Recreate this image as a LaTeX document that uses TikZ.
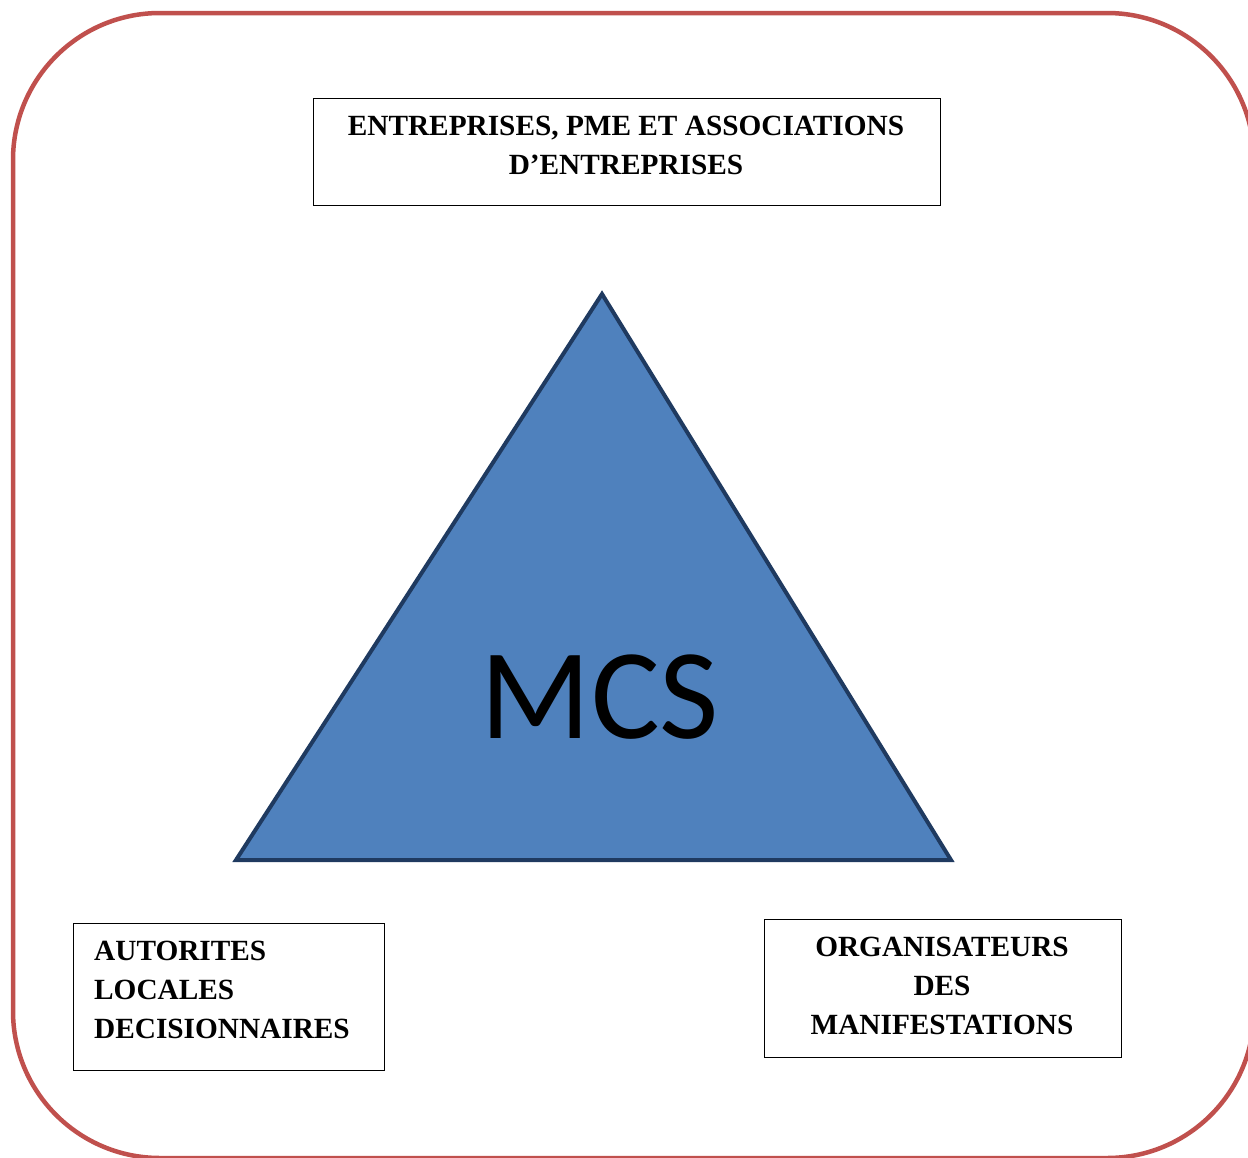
\documentclass[tikz,border=0pt]{standalone}
\usepackage{fontspec}
\setmainfont{Liberation Serif}
\newfontfamily\mcsfont{Carlito}
\definecolor{outerred}{HTML}{C0504D}
\definecolor{trifill}{HTML}{4F81BD}
\definecolor{tridraw}{HTML}{1F3A60}
\tikzset{
  labelbox/.style={draw=black, line width=1pt, inner sep=0pt},
  labeltext/.style={inner sep=0pt, font=\bfseries\fontsize{29.3}{38.8}\selectfont},
}
\begin{document}
\begin{tikzpicture}[x=1pt,y=-1pt]
\useasboundingbox (0,0) rectangle (1248,1157);
% outer frame
\draw[outerred, line width=4.5pt, rounded corners=147pt] (13,13) rectangle (1254,1158);
% triangle
\draw[tridraw, fill=trifill, line width=4pt, line join=miter] (602,294) -- (951,860) -- (236,860) -- cycle;
\node[inner sep=0pt, font=\mcsfont\fontsize{129}{129}\selectfont] (mcs) at (600,697) {MCS};
% boxes
\node[labelbox, minimum width=627pt, minimum height=107pt] (topbox) at (626.5,151.5) {};
\node[labeltext, align=center] (toptext) at (626,145.5) {ENTREPRISES, PME ET ASSOCIATIONS\\D’ENTREPRISES};
\node[labelbox, minimum width=311pt, minimum height=147pt] (leftbox) at (228.5,996.5) {};
\node[labeltext, align=left, anchor=west] (lefttext) at (94,989.7) {AUTORITES\\LOCALES\\DECISIONNAIRES};
\node[labelbox, minimum width=357pt, minimum height=138pt] (rightbox) at (942.5,988) {};
\node[labeltext, align=center] (righttext) at (942,985.7) {ORGANISATEURS\\DES\\MANIFESTATIONS};
\end{tikzpicture}
\end{document}
